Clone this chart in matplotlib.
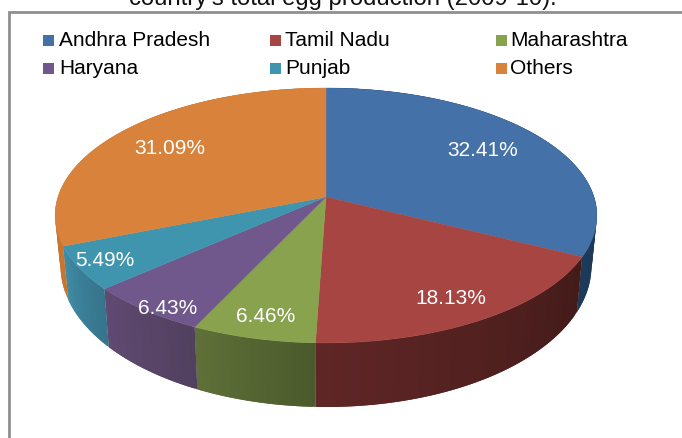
import numpy as np
import matplotlib
matplotlib.use("Agg")
import matplotlib.pyplot as plt
from matplotlib.colors import to_rgb
from matplotlib.patches import Rectangle

states = ["Andhra Pradesh", "Tamil Nadu", "Maharashtra", "Haryana", "Punjab", "Others"]
shares = [32.41, 18.13, 6.46, 6.43, 5.49, 31.09]
top_colors = ["#4471a8", "#a64542", "#89a24e", "#70578c", "#4095ae", "#d8823b"]
# side wall colour at the clockwise start and end of each slice
wall_start = ["#17304c", "#431b19", "#4b5a2c", "#52405f", "#36748a", "#c8752f"]
wall_end = ["#1c3a5a", "#602626", "#5f7038", "#604a72", "#3e8ba5", "#c8752f"]
label_pos = [(483, 151), (451, 299), (266, 317), (168, 308), (105, 261), (170, 149)]

# perspective of the disc, in pixels
cx, cy = 326, 197
ax_u, ax_v, k = 268, 124.8, 0.145
n_strips = 40


def rim(theta):
    # theta is clockwise from 12 o'clock
    u = np.sin(theta)
    v = np.cos(theta)
    d = 1 + k * v
    return cx + ax_u * u / d, cy - ax_v * v / d


def bottom_rim(x, y):
    return cx + (x - cx) * 0.98, y * 1.105 + 28


fig = plt.figure(figsize=(6.82, 4.38), dpi=100)
ax = fig.add_axes([0, 0, 1, 1])
ax.set_xlim(0, 682)
ax.set_ylim(438, 0)
ax.axis("off")

# chart frame, runs off the right and bottom of the crop
ax.plot([8.5, 8.5, 690], [445, 11.5, 11.5], color="#8f8f8f", lw=2, solid_joinstyle="miter")

edges = np.concatenate([[0], np.cumsum(shares)]) / sum(shares) * 2 * np.pi

# walls first, the top face covers the back part
for i in range(len(states)):
    c0 = np.array(to_rgb(wall_start[i]))
    c1 = np.array(to_rgb(wall_end[i]))
    steps = np.linspace(edges[i], edges[i + 1], n_strips + 1)
    for j in range(n_strips):
        # each strip runs under the next one so no seams show
        end = steps[min(j + 2, n_strips)]
        t = np.linspace(steps[j], end, 6)
        x, y = rim(t)
        xb, yb = bottom_rim(x, y)
        col = c0 + (c1 - c0) * j / (n_strips - 1)
        ax.fill(np.r_[x, xb[::-1]], np.r_[y, yb[::-1]], color=col, lw=0, zorder=2 + i * 0.01)

# top face
for i in range(len(states)):
    t = np.linspace(edges[i], edges[i + 1], 200)
    x, y = rim(t)
    ax.fill(np.r_[cx, x], np.r_[cy, y], color=top_colors[i], lw=0.3, zorder=3)

for share, pos in zip(shares, label_pos):
    ax.text(pos[0], pos[1], "%.2f%%" % share, color="white", fontsize=15,
            family="Liberation Sans", ha="center", va="center", zorder=4)

# legend
col_x = [43, 270, 496]
text_x = [59, 285, 510]
row_y = [40, 68]
for i, name in enumerate(states):
    x0 = col_x[i % 3]
    y0 = row_y[i // 3]
    ax.add_patch(Rectangle((x0, y0 - 5.5), 11, 11, color=top_colors[i], lw=0))
    ax.text(text_x[i % 3], y0, name, color="black", fontsize=15, family="Liberation Sans",
            ha="left", va="center")

# title is cut by the top of the image
ax.text(343, 5.5, "country's total egg production (2009-10).", color="#111111", fontsize=17.2,
        family="Liberation Sans", ha="center", va="baseline", clip_on=False)

fig.savefig("out.png", dpi=100)
